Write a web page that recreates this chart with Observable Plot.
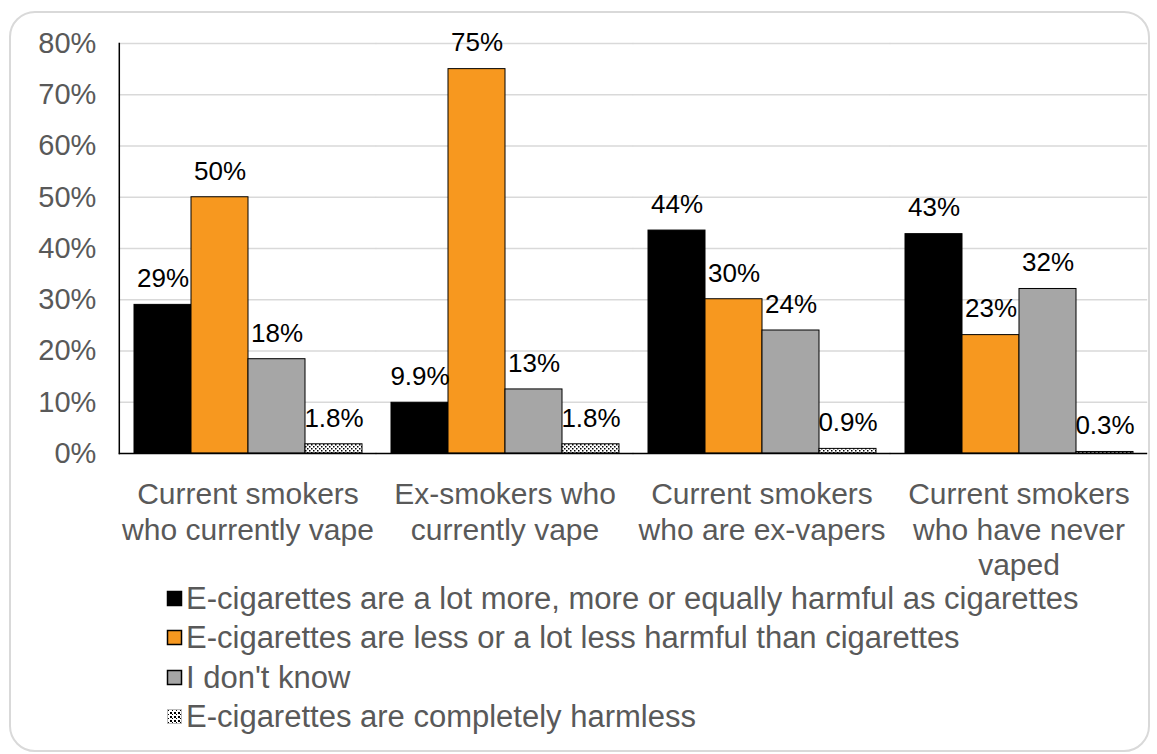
<!DOCTYPE html>
<html><head><meta charset="utf-8">
<script src="https://cdn.jsdelivr.net/npm/d3@7"></script>
<script src="https://cdn.jsdelivr.net/npm/@observablehq/plot@0.6"></script>
<style>
html,body{margin:0;padding:0;background:#fff;}
body{width:1157px;height:754px;position:relative;overflow:hidden;font-family:'Liberation Sans',Arial,sans-serif;}
#box{position:absolute;left:9px;top:11px;width:1141px;height:741px;border:2px solid #d9d9d9;border-radius:26px;box-sizing:border-box;}
#chart{position:absolute;left:0;top:0;}
#legend{position:absolute;left:166px;top:582.5px;}
.item{display:flex;align-items:center;height:31px;line-height:31px;margin-bottom:8.5px;font-size:31px;color:#595959;white-space:nowrap;}
.sw{width:17px;height:17px;margin-right:3px;flex:none;}
</style></head>
<body>
<div id="box"></div>
<div id="chart"></div>
<div id="legend"></div>
<script>
// ---- data ----
const categories = [
  "Current smokers\nwho currently vape",
  "Ex-smokers who\ncurrently vape",
  "Current smokers\nwho are ex-vapers",
  "Current smokers\nwho have never\nvaped"
];
const series = [
  "E-cigarettes are a lot more, more or equally harmful as cigarettes",
  "E-cigarettes are less or a lot less harmful than cigarettes",
  "I don't know",
  "E-cigarettes are completely harmless"
];
const moreHarmful = [29, 9.9, 43.5, 42.8];
const lessHarmful = [50, 75, 30.1, 23.1];
const dontKnow = [18.4, 12.5, 24, 32.1];
const harmless = [1.8, 1.8, 0.9, 0.3];
const yTicks = [0, 10, 20, 30, 40, 50, 60, 70, 80];
const gridTicks = [10, 20, 30, 40, 50, 60, 70, 80];
const colors = ["#000000", "#f7981f", "#a6a6a6", "url(#dots)"];

const seriesValues = [moreHarmful, lessHarmful, dontKnow, harmless];
const rows = categories.flatMap((c, i) => series.map((s, j) => ({category: c, series: s, value: seriesValues[j][i]})));
const fmt = d3.format(".2~r");

const chart = Plot.plot({
  width: 1157, height: 585,
  marginTop: 43, marginBottom: 132, marginLeft: 118, marginRight: 10,
  style: {fontFamily: "'Liberation Sans', Arial, sans-serif", background: "transparent", overflow: "visible"},
  fx: {domain: categories, paddingInner: 0.11, paddingOuter: 0.055, axis: null, label: null},
  x: {domain: series, padding: 0, axis: null},
  y: {domain: [0, 80], axis: null},
  color: {domain: series, range: colors},
  marks: [
    Plot.ruleY(gridTicks, {stroke: "#d9d9d9", strokeWidth: 1.5, insetLeft: -14.2, insetRight: -14.2}),
    Plot.barY(rows, {fx: "category", x: "series", y: "value", fill: "series", stroke: "black", strokeWidth: 1}),
    Plot.ruleY([0], {stroke: "black", strokeWidth: 1.5, insetLeft: -14.2, insetRight: -14.2}),
    Plot.frame({anchor: "left", facetAnchor: "left", dx: -14.2, stroke: "black", strokeWidth: 1.5}),
    Plot.text(rows, {fx: "category", x: "series", y: "value", text: d => fmt(d.value) + "%", dy: -26, fontSize: 26, fill: "black"}),
    Plot.axisY({ticks: yTicks, tickFormat: d => d + "%", tickSize: 0, tickPadding: 23, dx: -14.2, fontSize: 29, color: "#595959", label: null}),
    Plot.axisFx({anchor: "bottom", tickSize: 0, tickPadding: 26, fontSize: 30, lineHeight: 1.17, color: "#595959", label: null})
  ]
});

const svgSel = d3.select(chart);
const defs = svgSel.insert("defs", ":first-child");
const pat = defs.append("pattern").attr("id", "dots").attr("patternUnits", "userSpaceOnUse").attr("width", 4).attr("height", 4);
pat.append("rect").attr("width", 4).attr("height", 4).attr("fill", "white");
pat.append("rect").attr("x", 0).attr("y", 0).attr("width", 1.5).attr("height", 1.5).attr("fill", "black");
pat.append("rect").attr("x", 2).attr("y", 2).attr("width", 1.5).attr("height", 1.5).attr("fill", "black");
document.getElementById("chart").appendChild(chart);

// legend
const legend = d3.select("#legend");
series.forEach((s, j) => {
  const item = legend.append("div").attr("class", "item");
  const sw = item.append("svg").attr("class", "sw").attr("width", 17).attr("height", 17);
  if (j === 3) {
    const p = sw.append("defs").append("pattern").attr("id", "ldots").attr("patternUnits", "userSpaceOnUse").attr("width", 4).attr("height", 4);
    p.append("rect").attr("width", 4).attr("height", 4).attr("fill", "white");
    p.append("rect").attr("width", 2).attr("height", 2).attr("fill", "black");
    p.append("rect").attr("x", 2).attr("y", 2).attr("width", 1).attr("height", 1).attr("fill", "black");
    sw.append("rect").attr("x", 1.5).attr("y", 1.5).attr("width", 14).attr("height", 14).attr("fill", "url(#ldots)").attr("stroke", "#bbb").attr("stroke-width", 1);
  } else {
    sw.append("rect").attr("x", 1.5).attr("y", 1.5).attr("width", 14).attr("height", 14).attr("fill", colors[j]).attr("stroke", "black").attr("stroke-width", 1.5);
  }
  item.append("span").text(s);
});
</script>
</body></html>
